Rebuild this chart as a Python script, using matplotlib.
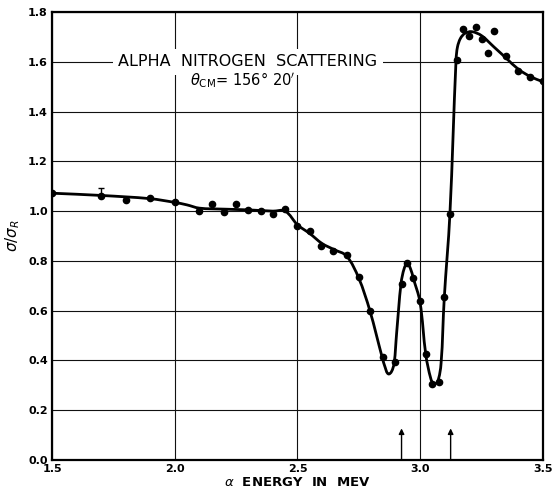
import matplotlib
matplotlib.use("Agg")
import matplotlib.pyplot as plt
import numpy as np
from matplotlib.path import Path
from matplotlib.patches import PathPatch

# measured data points (alpha energy in MeV, sigma/sigma_R)
energy = [1.50, 1.70, 1.80, 1.90, 2.00, 2.10, 2.15, 2.20, 2.25, 2.30, 2.35, 2.40, 2.45,
          2.50, 2.55, 2.595, 2.645, 2.70, 2.75, 2.795, 2.847, 2.897, 2.924, 2.947, 2.97,
          2.998, 3.025, 3.047, 3.076, 3.097, 3.121, 3.148, 3.175, 3.199, 3.226, 3.25,
          3.275, 3.299, 3.349, 3.397, 3.447, 3.499]
ratio = [1.071, 1.062, 1.045, 1.051, 1.035, 1.002, 1.029, 0.998, 1.029, 1.004, 1.002, 0.987, 1.007,
         0.940, 0.921, 0.860, 0.841, 0.824, 0.734, 0.600, 0.413, 0.393, 0.708, 0.790, 0.732,
         0.640, 0.426, 0.305, 0.315, 0.654, 0.988, 1.607, 1.732, 1.705, 1.741, 1.690,
         1.634, 1.725, 1.624, 1.563, 1.540, 1.523]

# knots of the hand-drawn smooth curve
curve_x = [1.50, 1.70, 1.90, 2.00, 2.05, 2.10, 2.20, 2.30, 2.40, 2.45, 2.50, 2.55, 2.60,
           2.65, 2.70, 2.75, 2.795, 2.845, 2.858, 2.870, 2.883, 2.894, 2.904, 2.922, 2.935,
           2.947, 2.960, 2.972, 2.999, 3.023, 3.043, 3.055, 3.071, 3.085, 3.098,
           3.121, 3.146, 3.152, 3.164, 3.182, 3.21, 3.25, 3.30, 3.35, 3.40, 3.45, 3.50]
curve_y = [1.072, 1.063, 1.050, 1.035, 1.025, 1.012, 1.008, 1.005, 1.000, 1.000, 0.945, 0.910, 0.870,
           0.845, 0.820, 0.730, 0.600, 0.413, 0.370, 0.346, 0.355, 0.390, 0.510, 0.710, 0.770,
           0.787, 0.770, 0.730, 0.636, 0.422, 0.328, 0.307, 0.315, 0.388, 0.650,
           0.988, 1.607, 1.660, 1.694, 1.714, 1.721, 1.705, 1.660, 1.615, 1.570, 1.540, 1.520]

errbar_x = [1.70]
errbar_y = [1.062]
errbar_up = [0.030]

arrow_x = [2.924, 3.124]
arrow_top = 0.127

xticks = [1.5, 2.0, 2.5, 3.0, 3.5]
xticklabels = ["1.5", "2.0", "2.5", "3.0", "3.5"]
yticks = [0.0, 0.2, 0.4, 0.6, 0.8, 1.0, 1.2, 1.4, 1.6, 1.8]
yticklabels = ["0.0", "0.2", "0.4", "0.6", "0.8", "1.0", "1.2", "1.4", "1.6", "1.8"]

plt.rcParams['font.family'] = ['DejaVu Sans']

fig = plt.figure(figsize=(5.54, 4.92), dpi=100)
ax = fig.add_axes([0.0939, 0.065, 0.8861, 0.9106])
ax.set_xlim(1.5, 3.5)
ax.set_ylim(0.0, 1.8)

ax.set_xticks(xticks)
ax.set_xticklabels(xticklabels, fontsize=8, fontweight='bold')
ax.set_yticks(yticks)
ax.set_yticklabels(yticklabels, fontsize=8, fontweight='bold')
ax.tick_params(length=0, pad=3)
ax.grid(True, color='#111111', linewidth=0.8)
ax.set_axisbelow(True)
for s in ax.spines.values():
    s.set_linewidth(1.6)
    s.set_color('black')

# smooth curve through the knots: cubic Bezier path with chord-length tangents
sx, sy = 245.5, 248.9  # isotropic scaling (px per unit)
P = np.column_stack([np.array(curve_x) * sx, np.array(curve_y) * sy])
n = len(P)
D = np.zeros_like(P)
for i in range(n):
    a = P[max(i - 1, 0)]
    b = P[min(i + 1, n - 1)]
    d = b - a
    D[i] = d / np.hypot(*d)
verts = [P[0]]
codes = [Path.MOVETO]
for i in range(n - 1):
    L = np.hypot(*(P[i + 1] - P[i]))
    verts += [P[i] + D[i] * L / 3.0, P[i + 1] - D[i + 1] * L / 3.0, P[i + 1]]
    codes += [Path.CURVE4] * 3
verts = np.array(verts) / np.array([sx, sy])
ax.add_patch(PathPatch(Path(verts, codes), facecolor='none', edgecolor='black',
                       linewidth=2.0, zorder=3, capstyle='round', joinstyle='round'))

ax.plot(energy, ratio, 'o', color='black', markersize=4.5, zorder=4)
ax.errorbar(errbar_x, errbar_y, yerr=[[0], errbar_up], fmt='none', ecolor='black',
            elinewidth=1.0, capsize=2.5, capthick=1.0, zorder=4)

for xa in arrow_x:
    ax.annotate('', xy=(xa, arrow_top), xytext=(xa, 0.0),
                arrowprops=dict(arrowstyle='-|>', color='black', lw=1.0,
                                mutation_scale=8, shrinkA=0, shrinkB=0), zorder=5)

ax.text(2.298, 1.60, "ALPHA  NITROGEN  SCATTERING", fontsize=11.5, ha='center', va='center',
        bbox=dict(facecolor='white', edgecolor='none', pad=4), zorder=6)
ax.text(2.278, 1.527, r"$\theta_{\mathrm{CM}}$= 156$\degree$ 20$'$", fontsize=10.5, ha='center',
        va='center', zorder=6)

ax.set_xlabel(r"$\alpha$  ENERGY  IN  MEV", fontsize=9.5, fontweight='bold', labelpad=1)
ax.set_ylabel(r"$\sigma/\sigma_R$", fontsize=11, labelpad=4)

fig.savefig("out.png", dpi=100)
